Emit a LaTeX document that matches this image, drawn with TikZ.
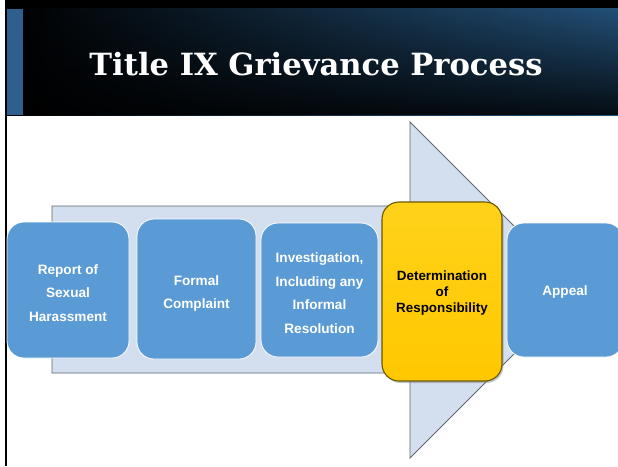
\documentclass[tikz,border=0pt]{standalone}
\usepackage{fontspec}
\setmainfont{Liberation Sans}
\newfontfamily\titlefont{DejaVu Serif}
\usetikzlibrary{shadows,fadings}
\definecolor{boxblue}{HTML}{5B9BD5}
\definecolor{shaftfill}{HTML}{D3DEEF}
\definecolor{shaftline}{HTML}{5F6670}
\definecolor{hdrblue}{HTML}{25557F}
\definecolor{stripe}{HTML}{2E5F8F}
\definecolor{ybox}{HTML}{FFC800}
\definecolor{ytop}{HTML}{FFD21A}
\definecolor{yline}{HTML}{6B5800}
\tikzfading[name=bottomdark, top color=transparent!100, bottom color=transparent!15]
\tikzset{
  stepbox/.style={rectangle, rounded corners=17pt, fill=boxblue, draw=white, line width=0.8pt},
  steptext/.style={text=white, align=center, font=\bfseries\fontsize{13.6}{23.6}\selectfont},
  keybox/.style={rectangle, rounded corners=17pt, top color=ytop, bottom color=ybox, draw=yline, line width=1.1pt,
    drop shadow={shadow xshift=1.5pt, shadow yshift=-2pt, opacity=0.45}},
  keytext/.style={text=black, align=center, font=\bfseries\fontsize{13.4}{16}\selectfont},
}
\begin{document}
\begin{tikzpicture}[x=1pt,y=-1pt]
\clip (0,0) rectangle (618,466);
\fill[white] (0,0) rectangle (618,466);
% header
\shade[left color=black, middle color=black, right color=hdrblue] (5,0) rectangle (618,115);
\fill[black, path fading=bottomdark] (5,0) rectangle (618,115);
\fill[black] (5,0) rectangle (618,8);
\fill[stripe] (7,9) rectangle (23,115);
\fill[black] (5,0) rectangle (7,466);
\node[text=white, font=\titlefont\bfseries\fontsize{30.6}{34}\selectfont] (title) at (316,64) {Title IX Grievance Process};
% arrow
\draw[fill=shaftfill, draw=shaftline, line width=0.8pt, line join=miter]
  (52,206) -- (410,206) -- (410,122) -- (578,290) -- (410,458) -- (410,373) -- (52,373) -- cycle;
% boxes
\node[stepbox, minimum width=122pt, minimum height=136pt] (report) at (68,290) {};
\node[stepbox, minimum width=119pt, minimum height=140pt] (formal) at (196.5,289) {};
\node[stepbox, minimum width=117pt, minimum height=134pt] (invest) at (319.5,290) {};
\node[keybox, minimum width=120pt, minimum height=179pt] (determ) at (442,291.5) {};
\node[stepbox, minimum width=116pt, minimum height=134pt] (appeal) at (565,290) {};
% texts
\node[steptext] (reportT) at ([yshift=-3pt]report.center) {Report of\\Sexual\\Harassment};
\node[steptext] (formalT) at ([yshift=-4.5pt]formal.center) {Formal\\Complaint};
\node[steptext] (investT) at ([yshift=-3pt]invest.center) {Investigation,\\Including any\\Informal\\Resolution};
\node[keytext] (determT) at ([yshift=-2pt]determ.center) {Determination\\of\\Responsibility};
\node[steptext] (appealT) at ([yshift=-2pt]appeal.center) {Appeal};
\end{tikzpicture}
\end{document}
